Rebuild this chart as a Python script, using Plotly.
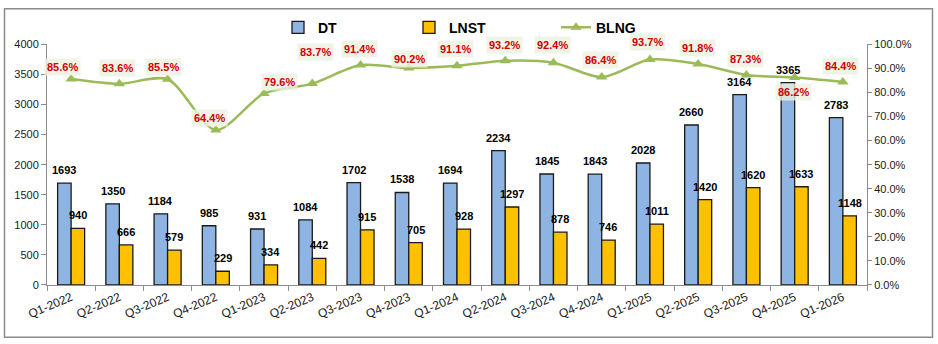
import plotly.graph_objects as go

# Quarterly revenue (DT), net profit (LNST) and gross margin (BLNG, %)
quarters = ["Q1-2022", "Q2-2022", "Q3-2022", "Q4-2022", "Q1-2023", "Q2-2023",
            "Q3-2023", "Q4-2023", "Q1-2024", "Q2-2024", "Q3-2024", "Q4-2024",
            "Q1-2025", "Q2-2025", "Q3-2025", "Q4-2025", "Q1-2026"]
dt = [1693, 1350, 1184, 985, 931, 1084, 1702, 1538, 1694, 2234, 1845, 1843,
      2028, 2660, 3164, 3365, 2783]
lnst = [940, 666, 579, 229, 334, 442, 915, 705, 928, 1297, 878, 746,
        1011, 1420, 1620, 1633, 1148]
blng = [85.6, 83.6, 85.5, 64.4, 79.6, 83.7, 91.4, 90.2, 91.1, 93.2, 92.4, 86.4,
        93.7, 91.8, 87.3, 86.2, 84.4]

# pixel nudges for the margin labels (x, y) so they sit clear of the curve
label_dx = [-9, -2, -4, -6, 15, 3, -1, 1, -2, -1, -1, -1, -2, -1, -1, -1, -2]
label_dy = [12, 16, 12, 12, 11, 32, 16, 9, 17, 16, 18, 17, 18, 16, 16, -14, 16]

FONT = "Liberation Sans"
BLUE = "#8DB4E2"
GOLD = "#FFC000"
GREEN = "#9BBB59"
OUTLINE = "#1a1a1a"
AXIS = "#8c8c8c"
BARGAP = 0.44

# plotting band sits below a strip reserved for the legend
W, H = 938, 344
M_L, M_R, M_T, M_B = 47, 71, 10, 59
PLOT_TOP = 39
paper_h = H - M_T - M_B
paper_w = W - M_L - M_R
plot_frac = (H - M_B - PLOT_TOP) / paper_h
# half of one bar's width in pixels (two bars per group)
half_bar_px = paper_w / len(quarters) * (1 - BARGAP) / 4


def py(px_from_top):
    """Convert a pixel row to a paper fraction."""
    return (H - M_B - px_from_top) / paper_h


def px(px_from_left):
    return (px_from_left - M_L) / paper_w


fig = go.Figure()

fig.add_trace(go.Bar(
    x=quarters, y=dt, name="DT",
    marker=dict(color=BLUE, line=dict(color=OUTLINE, width=1.3)),
    legendwidth=86,
))
fig.add_trace(go.Bar(
    x=quarters, y=lnst, name="LNST",
    marker=dict(color=GOLD, line=dict(color=OUTLINE, width=1.3)),
    legendwidth=102,
))
fig.add_trace(go.Scatter(
    x=quarters, y=[v / 100 for v in blng], name="BLNG", yaxis="y2",
    mode="lines+markers",
    line=dict(color=GREEN, width=2.5, shape="spline", smoothing=0.8),
    marker=dict(symbol="triangle-up", size=10, color=GREEN),
    cliponaxis=False,
))

annotations = []
# value labels above each bar
for series, side in ((dt, -1), (lnst, 1)):
    for q, v in zip(quarters, series):
        annotations.append(dict(
            x=q, y=v, xref="x", yref="y", text=f"<b>{v}</b>",
            showarrow=False, xshift=side * half_bar_px, yshift=13,
            yanchor="middle",
            font=dict(family=FONT, size=11, color="#000000"),
        ))
# margin labels along the curve
for q, v, dx, dy in zip(quarters, blng, label_dx, label_dy):
    annotations.append(dict(
        x=q, y=v / 100, xref="x", yref="y2", text=f"<b>{v:.1f}%</b>",
        showarrow=False, xshift=dx, yshift=dy,
        font=dict(family=FONT, size=11, color="#D00000"),
        bgcolor="rgba(236,241,224,0.8)", borderpad=2,
    ))

fig.update_layout(
    width=W, height=H,
    margin=dict(l=M_L, r=M_R, t=M_T, b=M_B),
    paper_bgcolor="white", plot_bgcolor="white",
    font=dict(family=FONT, size=11, color="#1a1a1a"),
    barmode="group", bargap=BARGAP, bargroupgap=0,
    showlegend=True,
    legend=dict(orientation="h", x=px(278), xanchor="left",
                y=py(22), yanchor="middle",
                font=dict(family=FONT, size=14, color="#000000", weight="bold"),
                bgcolor="rgba(0,0,0,0)", itemwidth=30),
    xaxis=dict(type="category", range=[-0.5, len(quarters) - 0.5], tickangle=-23,
               showline=True, linecolor=AXIS, linewidth=1, ticks="outside",
               tickson="boundaries", ticklen=5, tickcolor=AXIS, showgrid=False,
               tickfont=dict(family=FONT, size=12, color="#1a1a1a")),
    yaxis=dict(domain=[0, plot_frac], range=[0, 4000], dtick=500, showline=True,
               linecolor=AXIS, ticks="outside", ticklen=5, tickcolor=AXIS,
               showgrid=False, zeroline=False,
               tickfont=dict(family=FONT, size=11, color="#1a1a1a")),
    yaxis2=dict(domain=[0, plot_frac], range=[0, 1], dtick=0.1, tickformat=".1%",
                overlaying="y", side="right", showline=True, linecolor=AXIS,
                ticks="outside", ticklen=4, tickcolor=AXIS, showgrid=False,
                zeroline=False, tickfont=dict(family=FONT, size=11, color="#1a1a1a")),
    annotations=annotations,
    shapes=[dict(type="rect", xref="paper", yref="paper",
                 x0=px(4.5), x1=px(932.5), y0=py(338.5), y1=py(2.5),
                 line=dict(color=AXIS, width=1.5), fillcolor="rgba(0,0,0,0)",
                 layer="below")],
)

fig.write_html("out.html")
